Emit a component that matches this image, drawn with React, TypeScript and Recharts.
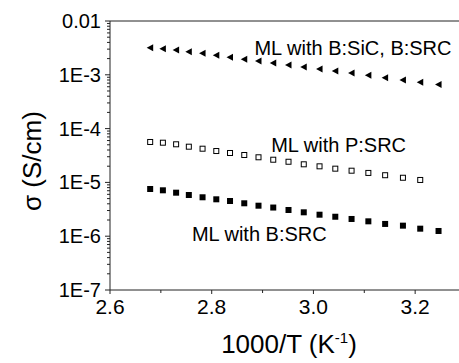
import React from "react";
import { ScatterChart, Scatter, XAxis, YAxis, ReferenceLine, ReferenceDot } from "recharts";

const xValues = [2.679, 2.704, 2.73, 2.755, 2.782, 2.809, 2.836, 2.864, 2.892, 2.921, 2.951, 2.981, 3.012, 3.043, 3.075, 3.108, 3.141, 3.176, 3.21, 3.246];

const sigmaBSiC = [3.19e-3, 3.05e-3, 2.89e-3, 2.69e-3, 2.51e-3, 2.30e-3, 2.11e-3, 1.94e-3, 1.81e-3, 1.66e-3, 1.52e-3, 1.40e-3, 1.28e-3, 1.18e-3, 1.08e-3, 9.8e-4, 8.83e-4, 8.0e-4, 7.26e-4, 6.57e-4];
const sigmaPSRC = [5.64e-5, 5.47e-5, 5.11e-5, 4.61e-5, 4.23e-5, 3.83e-5, 3.52e-5, 3.23e-5, 2.93e-5, 2.64e-5, 2.42e-5, 2.17e-5, 1.99e-5, 1.80e-5, 1.65e-5, 1.50e-5, 1.36e-5, 1.22e-5, 1.11e-5];
const sigmaBSRC = [7.54e-6, 7.13e-6, 6.44e-6, 5.83e-6, 5.29e-6, 4.85e-6, 4.51e-6, 4.09e-6, 3.69e-6, 3.41e-6, 3.07e-6, 2.78e-6, 2.51e-6, 2.30e-6, 2.09e-6, 1.89e-6, 1.69e-6, 1.57e-6, 1.38e-6, 1.25e-6];

const xMajorTicks = [2.6, 2.8, 3.0, 3.2];
const xMinorTicks = [2.7, 2.9, 3.1, 3.3];
const yMajorTicks = [1e-7, 1e-6, 1e-5, 1e-4, 1e-3, 1e-2];
const yMajorLabels = ["1E-7", "1E-6", "1E-5", "1E-4", "1E-3", "0.01"];
const yMinorMultipliers = [2, 3, 4, 5, 6, 7, 8, 9];

const labelBSiC = "ML with B:SiC, B:SRC";
const labelPSRC = "ML with P:SRC";
const labelBSRC = "ML with B:SRC";
const labelPos = [
  { x: 2.884, y: 2.33e-3 },
  { x: 2.917, y: 3.72e-5 },
  { x: 2.761, y: 8.24e-7 },
];

const FONT = "'Liberation Sans', Arial, sans-serif";

const toData = (ys: number[]) => ys.map((y, i) => ({ x: xValues[i], y }));
const dataBSiC = toData(sigmaBSiC);
const dataPSRC = toData(sigmaPSRC);
const dataBSRC = toData(sigmaBSRC);

const yMinorTicks: number[] = [];
for (let e = -7; e <= -3; e++) {
  for (const m of yMinorMultipliers) yMinorTicks.push(Number((m * Math.pow(10, e)).toPrecision(3)));
}
const yAllTicks = [...yMajorTicks, ...yMinorTicks].sort((a, b) => a - b);
const xAllTicks = [...xMajorTicks, ...xMinorTicks].sort((a, b) => a - b);

const isMajorY = (v: number) => yMajorTicks.some((t) => Math.abs(Math.log10(t) - Math.log10(v)) < 1e-6);
const isMajorX = (v: number) => xMajorTicks.some((t) => Math.abs(t - v) < 1e-6);

const YTick = (props: any) => {
  const { x, y, payload } = props;
  const v = payload.value;
  const major = isMajorY(v);
  const idx = yMajorTicks.findIndex((t) => Math.abs(Math.log10(t) - Math.log10(v)) < 1e-6);
  return (
    <g>
      <line x1={x - (major ? 5 : 3)} x2={x} y1={y} y2={y} stroke="#222" strokeWidth={1} />
      {major && (
        <text x={x - 9} y={y} textAnchor="end" dominantBaseline="central" fontSize={20} fontFamily={FONT} fill="#000">
          {yMajorLabels[idx]}
        </text>
      )}
    </g>
  );
};

const XTick = (props: any) => {
  const { x, y, payload } = props;
  const v = payload.value;
  const major = isMajorX(v);
  return (
    <g>
      <line x1={x} x2={x} y1={y} y2={y + (major ? 4 : 3)} stroke="#222" strokeWidth={1} />
      {major && (
        <text x={x} y={y + 9} textAnchor="middle" dy="0.71em" fontSize={21} fontFamily={FONT} fill="#000">
          {v.toFixed(1)}
        </text>
      )}
    </g>
  );
};

const Triangle = (props: any) => {
  const { cx, cy } = props;
  if (cx == null || cy == null) return null;
  return <polygon points={`${cx - 3.5},${cy} ${cx + 3},${cy - 3.5} ${cx + 3},${cy + 3.5}`} fill="#000" />;
};
const OpenSquare = (props: any) => {
  const { cx, cy } = props;
  if (cx == null || cy == null) return null;
  return <rect x={cx - 2.5} y={cy - 2.5} width={5} height={5} fill="#fff" stroke="#000" strokeWidth={1} />;
};
const FilledSquare = (props: any) => {
  const { cx, cy } = props;
  if (cx == null || cy == null) return null;
  return <rect x={cx - 3} y={cy - 3} width={6} height={6} fill="#000" />;
};

const makeLabel = (text: string) => (props: any) => {
  const { viewBox } = props;
  const cx = viewBox.x + viewBox.width / 2;
  const cy = viewBox.y + viewBox.height / 2;
  return (
    <text x={cx} y={cy} textAnchor="start" fontSize={20} fontFamily={FONT} fill="#000">
      {text}
    </text>
  );
};

const XAxisLabel = (props: any) => {
  const { viewBox } = props;
  const cx = viewBox.x + (289 - 110);
  return (
    <text x={cx} y={353} textAnchor="middle" fontSize={26} fontFamily={FONT} fill="#000">
      1000/T (K<tspan dy={-10} fontSize={15}>-1</tspan>
      <tspan dy={10}>)</tspan>
    </text>
  );
};

const YAxisLabel = () => (
  <text x={32} y={161} transform="rotate(-90 32 161)" textAnchor="middle" dominantBaseline="central" fontSize={26} fontFamily={FONT} fill="#000">
    σ (S/cm)
  </text>
);

export default function App() {
  return (
    <div style={{ position: "absolute", left: 0, top: 0, width: 459, height: 363, overflow: "hidden", background: "#fff" }}>
      <ScatterChart width={466} height={363} margin={{ top: 21, right: 0, bottom: 0, left: 0 }}>
        <XAxis
          type="number"
          dataKey="x"
          domain={[2.6, 3.3]}
          ticks={xAllTicks}
          interval={0}
          allowDataOverflow
          height={73}
          tickSize={0}
          tickMargin={0}
          tickLine={false}
          tick={<XTick />}
          axisLine={{ stroke: "#222" }}
          label={<XAxisLabel />}
        />
        <YAxis
          type="number"
          dataKey="y"
          scale="log"
          domain={[1e-7, 1e-2]}
          ticks={yAllTicks}
          interval={0}
          allowDataOverflow
          width={110}
          tickSize={0}
          tickMargin={0}
          tickLine={false}
          tick={<YTick />}
          axisLine={{ stroke: "#222" }}
          label={<YAxisLabel />}
        />
        <ReferenceLine y={1e-2} stroke="#222" ifOverflow="visible" />
        <Scatter data={dataBSiC} shape={<Triangle />} isAnimationActive={false} />
        <Scatter data={dataPSRC} shape={<OpenSquare />} isAnimationActive={false} />
        <Scatter data={dataBSRC} shape={<FilledSquare />} isAnimationActive={false} />
        <ReferenceDot x={labelPos[0].x} y={labelPos[0].y} r={0} stroke="none" fill="none" ifOverflow="visible" label={makeLabel(labelBSiC)} />
        <ReferenceDot x={labelPos[1].x} y={labelPos[1].y} r={0} stroke="none" fill="none" ifOverflow="visible" label={makeLabel(labelPSRC)} />
        <ReferenceDot x={labelPos[2].x} y={labelPos[2].y} r={0} stroke="none" fill="none" ifOverflow="visible" label={makeLabel(labelBSRC)} />
      </ScatterChart>
    </div>
  );
}
